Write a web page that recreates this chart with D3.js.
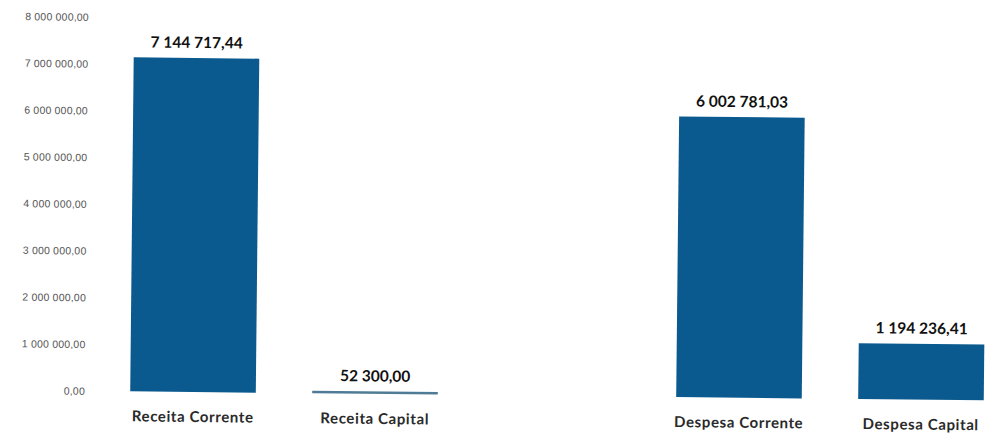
<!DOCTYPE html>
<meta charset="utf-8">
<style>
body {
  margin: 0;
  background: #fff;
}
.axis text {
  font: 10.5px "Liberation Sans", sans-serif;
  letter-spacing: 0.2px;
  fill: #555;
}
.axis path, .axis line {
  display: none;
}
.bar {
  fill: #0b5a8f;
}
.value {
  font: bold 15.5px Lato, sans-serif;
  fill: #111;
  text-anchor: middle;
}
.cat {
  font: bold 15px Lato, sans-serif;
  letter-spacing: 0.6px;
  fill: #2a2a2a;
  text-anchor: middle;
}
</style>
<body>
<svg width="989" height="434"></svg>
<script src="https://cdn.jsdelivr.net/npm/d3@7"></script>
<script>
// values
var categories = ["Receita Corrente", "Receita Capital", "Despesa Corrente", "Despesa Capital"];
var values = [7144717.44, 52300.00, 6002781.03, 1194236.41];
var yTicks = [0, 1000000, 2000000, 3000000, 4000000, 5000000, 6000000, 7000000, 8000000];

var data = categories.map(function(c, i) { return {cat: c, val: values[i]}; });

var pt = d3.formatLocale({decimal: ",", thousands: " ", grouping: [3], currency: ["", ""]});
var fmt = pt.format(",.2f");

var svg = d3.select("svg");

// the scan is a little tilted, so the whole chart is turned a touch
var g = svg.append("g")
    .attr("transform", "rotate(0.6,193,392)");

// empty slot in the middle separates receitas from despesas
var domain = [categories[0], categories[1], "_gap", categories[2], categories[3]];

var x = d3.scaleBand()
    .domain(domain)
    .range([102, 1012])
    .paddingInner(0.31)
    .paddingOuter(0.155);

var y = d3.scaleLinear()
    .domain([0, 8000000])
    .range([392, 18]);

g.append("g")
    .attr("class", "axis")
    .attr("transform", "translate(85,0)")
    .call(d3.axisLeft(y).tickValues(yTicks).tickSize(0).tickPadding(0).tickFormat(fmt));

g.selectAll(".bar")
  .data(data)
  .enter().append("rect")
    .attr("class", "bar")
    .attr("x", function(d) { return x(d.cat); })
    .attr("y", function(d) { return y(d.val); })
    .attr("width", x.bandwidth())
    .attr("height", function(d) { return y(0) - y(d.val); })
    .style("fill", function(d) { return d.val < 100000 ? "#4f7b96" : null; });

g.selectAll(".value")
  .data(data)
  .enter().append("text")
    .attr("class", "value")
    .attr("x", function(d) { return x(d.cat) + x.bandwidth() / 2; })
    .attr("y", function(d) { return y(d.val) - 10; })
    .text(function(d) { return fmt(d.val); });

g.selectAll(".cat")
  .data(data)
  .enter().append("text")
    .attr("class", "cat")
    .attr("x", function(d) { return x(d.cat) + x.bandwidth() / 2; })
    .attr("y", 422)
    .text(function(d) { return d.cat; });
</script>
</body>
